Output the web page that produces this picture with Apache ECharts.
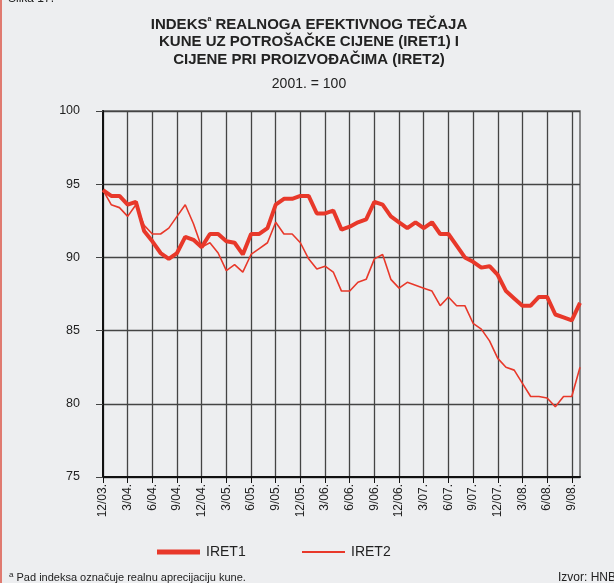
<!DOCTYPE html>
<html>
<head>
<meta charset="utf-8">
<script src="https://cdn.jsdelivr.net/npm/echarts@6/dist/echarts.min.js"></script>
<style>
  html, body { margin: 0; padding: 0; background: #edeef0; }
  #chart { width: 614px; height: 583px; border-left: 2px solid #e07a70; box-sizing: border-box; }
</style>
</head>
<body>
<div id="chart"></div>
<script>
// months 12/03 .. 10/08
var months = [
  "12/03.", "1/04.", "2/04.", "3/04.", "4/04.", "5/04.", "6/04.", "7/04.", "8/04.", "9/04.", "10/04.", "11/04.",
  "12/04.", "1/05.", "2/05.", "3/05.", "4/05.", "5/05.", "6/05.", "7/05.", "8/05.", "9/05.", "10/05.", "11/05.",
  "12/05.", "1/06.", "2/06.", "3/06.", "4/06.", "5/06.", "6/06.", "7/06.", "8/06.", "9/06.", "10/06.", "11/06.",
  "12/06.", "1/07.", "2/07.", "3/07.", "4/07.", "5/07.", "6/07.", "7/07.", "8/07.", "9/07.", "10/07.", "11/07.",
  "12/07.", "1/08.", "2/08.", "3/08.", "4/08.", "5/08.", "6/08.", "7/08.", "8/08.", "9/08.", "10/08."
];

var iret1 = [
  94.6, 94.2, 94.2, 93.6, 93.8, 91.8, 91.1, 90.3, 89.9, 90.3,
  91.4, 91.2, 90.7, 91.6, 91.6, 91.1, 91.0, 90.2, 91.6, 91.6,
  92.0, 93.6, 94.0, 94.0, 94.2, 94.2, 93.0, 93.0, 93.2, 91.9,
  92.1, 92.4, 92.6, 93.8, 93.6, 92.8, 92.4, 92.0, 92.4, 92.0,
  92.4, 91.6, 91.6, 90.8, 90.0, 89.7, 89.3, 89.4, 88.8, 87.7,
  87.2, 86.7, 86.7, 87.3, 87.3, 86.1, 85.9, 85.7, 86.9
];

var iret2 = [
  94.6, 93.6, 93.4, 92.8, 93.6, 92.2, 91.6, 91.6, 92.0, 92.8,
  93.6, 92.3, 90.7, 91.0, 90.3, 89.1, 89.5, 89.0, 90.2, 90.6,
  91.0, 92.4, 91.6, 91.6, 91.0, 89.9, 89.2, 89.4, 89.0, 87.7,
  87.7, 88.3, 88.5, 89.9, 90.2, 88.5, 87.9, 88.3, 88.1, 87.9,
  87.7, 86.7, 87.3, 86.7, 86.7, 85.5, 85.1, 84.3, 83.1, 82.5,
  82.3, 81.4, 80.5, 80.5, 80.4, 79.8, 80.5, 80.5, 82.5
];

var red = "#e8382a";
var font = "Liberation Sans, Arial, sans-serif";

var chart = echarts.init(document.getElementById("chart"));
chart.setOption({
  backgroundColor: "#edeef0",
  textStyle: { fontFamily: font },
  graphic: [
    { type: "text", left: 6, top: -7, style: { text: "Slika 17.", fontSize: 12, fill: "#222", fontFamily: font } },
    {
      type: "text", x: 307, y: 16,
      style: {
        text: "INDEKS{sup|a} REALNOGA EFEKTIVNOG TEČAJA\nKUNE UZ POTROŠAČKE CIJENE (IRET1) I\nCIJENE PRI PROIZVOĐAČIMA (IRET2)",
        align: "center", verticalAlign: "top",
        fontSize: 15, fontWeight: "bold", fill: "#222", lineHeight: 17.5, fontFamily: font,
        rich: { sup: { fontSize: 7, fontWeight: "bold", verticalAlign: "top", lineHeight: 17.5, padding: [0, 0, 7, 0] } }
      }
    },
    { type: "text", x: 307, y: 77, style: { text: "2001. = 100", align: "center", fontSize: 14, fill: "#222", fontFamily: font } },
    { type: "text", left: 7, top: 571, style: { text: "{s|a} Pad indeksa označuje realnu aprecijaciju kune.", fontSize: 11, fill: "#222", fontFamily: font,
      rich: { s: { fontSize: 8, verticalAlign: "top", padding: [0, 0, 5, 0] } } } },
    { type: "text", left: 556, top: 572, style: { text: "Izvor: HNB", fontSize: 12, fill: "#222", fontFamily: font } }
  ],
  legend: [
    {
      left: 150, top: 540, icon: "rect", itemWidth: 43, itemHeight: 5,
      textStyle: { fontSize: 14, color: "#222", fontFamily: font, padding: [0, 0, 0, 1] },
      data: ["IRET1"]
    },
    {
      left: 295, top: 540, icon: "rect", itemWidth: 43, itemHeight: 2,
      textStyle: { fontSize: 14, color: "#222", fontFamily: font, padding: [0, 0, 0, 1] },
      data: ["IRET2"]
    }
  ],
  grid: {
    left: 101, right: 34, top: 111, bottom: 106,
    show: true, borderColor: "#666", borderWidth: 1.5
  },
  xAxis: {
    type: "category",
    data: months,
    boundaryGap: false,
    axisLine: { lineStyle: { color: "#111", width: 2 } },
    axisTick: { interval: 2, length: 6, lineStyle: { color: "#111" } },
    axisLabel: { interval: 2, rotate: 90, fontSize: 12, color: "#222", margin: 7 },
    splitLine: { show: true, interval: 2, lineStyle: { color: "#444", width: 1.3 } }
  },
  yAxis: {
    type: "value",
    min: 75, max: 100, interval: 5,
    axisLine: { show: true, lineStyle: { color: "#111", width: 2 } },
    axisTick: { show: true, length: 7, lineStyle: { color: "#444" } },
    axisLabel: { fontSize: 12.5, color: "#222", margin: 23 },
    splitLine: { lineStyle: { color: "#444", width: 1.3 } }
  },
  series: [
    {
      name: "IRET1", type: "line", data: iret1, symbol: "none",
      lineStyle: { color: red, width: 4 }, itemStyle: { color: red }
    },
    {
      name: "IRET2", type: "line", data: iret2, symbol: "none",
      lineStyle: { color: red, width: 1.6 }, itemStyle: { color: red }
    }
  ]
});
</script>
</body>
</html>
